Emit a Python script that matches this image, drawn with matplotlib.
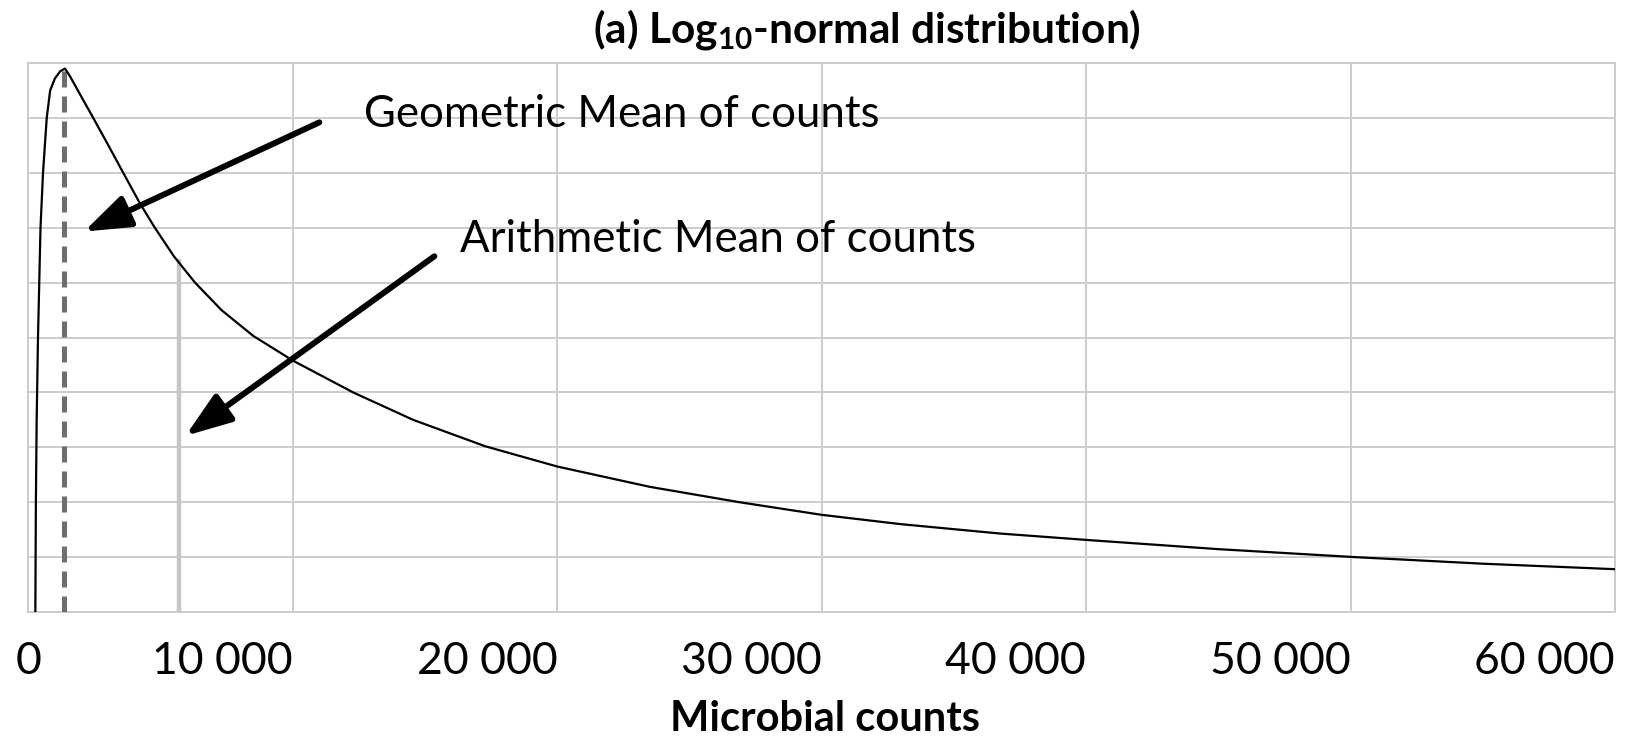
from matplotlib import pyplot as plt
import numpy as np

# Microbial counts (x) and relative density (y, grid units)
counts = [260, 280, 310, 360, 455, 550, 690, 820, 1000, 1200, 1380, 1570,
          1950, 2450, 3000, 3585, 4220, 4780, 5500, 6300, 7300, 8500,
          10000, 12280, 14550, 17270, 20000, 23500, 26890, 30000, 33000,
          36730, 40100, 45000, 50160, 55000, 60000]
density = [0.0, 2.0, 3.5, 5.0, 7.0, 8.0, 9.0, 9.5, 9.72, 9.85, 9.9, 9.76,
           9.43, 9.0, 8.52, 8.0, 7.44, 7.0, 6.48, 6.0, 5.5, 5.03,
           4.58, 4.0, 3.5, 3.02, 2.65, 2.28, 2.0, 1.77, 1.6,
           1.43, 1.31, 1.145, 1.0, 0.88, 0.78]

geo_mean = 1360
geo_top = 9.9
arith_mean = 5700
arith_top = 6.4

tick_vals = [0, 10000, 20000, 30000, 40000, 50000, 60000]
tick_labels = ["0", "10 000", "20 000", "30 000", "40 000", "50 000", "60 000"]

plt.rcParams["font.family"] = ["Lato", "DejaVu Sans"]
plt.rcParams["mathtext.fontset"] = "custom"
plt.rcParams["mathtext.rm"] = "Lato"
plt.rcParams["mathtext.bf"] = "Lato:bold"

fig = plt.figure(figsize=(16.27, 7.42), dpi=100)
ax = fig.add_axes([0.0175, 0.1752, 0.9751, 0.7398])

grid_col = "#cccccc"

ax.plot(counts, density, color="black", lw=1.6, zorder=4)
ax.plot([geo_mean, geo_mean], [0, geo_top], color="#6d6e71", lw=3.6,
        linestyle=(0, (3.2, 1.8)), zorder=3)
ax.plot([arith_mean, arith_mean], [0, arith_top], color="#c6c6c6", lw=3.2, zorder=3)

ax.set_xlim(0, 60000)
ax.set_ylim(0, 10)
ax.set_yticks(np.arange(0, 11, 1))
ax.set_yticklabels([])
ax.set_xticks(tick_vals)
ax.set_xticklabels(tick_labels, fontsize=32)
for i, lab in enumerate(ax.get_xticklabels()):
    lab.set_ha("center" if i == 0 else "right")
ax.tick_params(length=0, pad=21)
ax.grid(True, color=grid_col, lw=1.4)
ax.set_axisbelow(True)
for s in ax.spines.values():
    s.set_color(grid_col)
    s.set_linewidth(1.4)

arrow = dict(arrowstyle="-|>,head_length=1.4,head_width=0.5", lw=4.3,
             color="black", mutation_scale=20, shrinkA=0, shrinkB=0)
ax.annotate("", xy=(2100, 6.93), xytext=(11000, 8.92), arrowprops=arrow, zorder=5)
ax.annotate("", xy=(5940, 3.21), xytext=(15350, 6.48), arrowprops=arrow, zorder=5)

ax.text(12680, 9.07, "Geometric Mean of counts", fontsize=31.5, va="center", ha="left")
ax.text(16335, 6.78, "Arithmetic Mean of counts", fontsize=31.5, va="center", ha="left")

fig.text(867 / 1627, 1 - 29 / 742, "(a) Log$_{\\mathbf{10}}$-normal distribution)",
         fontsize=30.5, fontweight="bold", ha="center", va="center")
fig.text(825 / 1627, 1 - 719 / 742, "Microbial counts", fontsize=30,
         fontweight="bold", ha="center", va="center")

fig.savefig("out.png", dpi=100)
